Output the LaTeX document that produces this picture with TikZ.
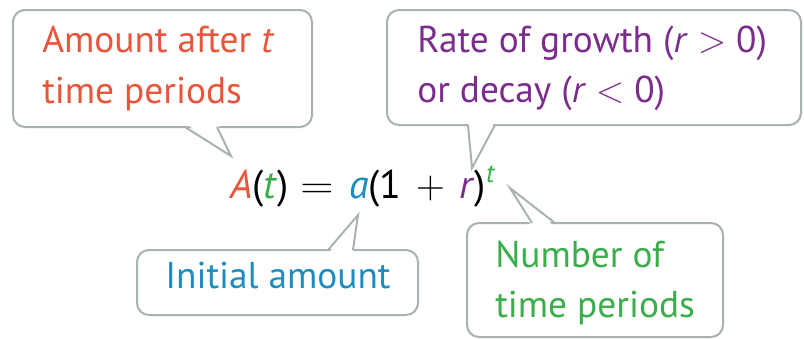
\RequirePackage{fix-cm}
\documentclass[tikz,border=0pt]{standalone}
\usepackage{graphicx}
\usepackage{fontspec}
\setmainfont{PT Sans}
\definecolor{cred}{HTML}{E8553A}
\definecolor{cpurple}{HTML}{7B2C8C}
\definecolor{cblue}{HTML}{1F8CC0}
\definecolor{cgreen}{HTML}{3AAE4A}
\definecolor{cgray}{HTML}{A9B1B1}
\begin{document}
\begin{tikzpicture}[x=0.75pt,y=-0.75pt,
  box/.style={draw=cgray, line width=1.5pt, fill=white, rounded corners=9pt},
  ptr/.style={draw=cgray, line width=1.5pt, line join=miter},
  lbl/.style={anchor=base west, inner sep=0pt, font=\fontsize{28}{33}\selectfont},
  eqn/.style={anchor=base west, inner sep=0pt, font=\fontsize{30}{36}\selectfont}]
\useasboundingbox (0,0) rectangle (804,339);
\fill[white] (0,0) rectangle (804,339);
% box 1
\draw[box] (13,10) rectangle (312,127);
\coordinate (p1a) at (185,127); \coordinate (p1b) at (217,127); \coordinate (t1) at (231,156);
\fill[white] (185,123) -- (217,123) -- (t1) -- cycle;
\draw[ptr] (p1a) -- (t1) -- (p1b);
\node[lbl, text=cred] (l1a) at (42,52) {Amount after \textit{t}};
\node[lbl, text=cred] (l1b) at (42,103) {time periods};
% box 2
\draw[box] (387,10) rectangle (801,125);
\coordinate (p2a) at (468,125); \coordinate (p2b) at (495,125); \coordinate (t2) at (472,168);
\fill[white] (468,121) -- (495,121) -- (t2) -- cycle;
\draw[ptr] (p2a) -- (t2) -- (p2b);
\node[lbl, text=cpurple] (l2a) at (417,52) {Rate of growth (\textit{r} $>$ 0)};
\node[lbl, text=cpurple] (l2b) at (417,102) {or decay (\textit{r} $<$ 0)};
% box 3
\draw[box] (137,250) rectangle (418,315);
\coordinate (p3a) at (328,250); \coordinate (p3b) at (353,250); \coordinate (t3) at (358,215);
\fill[white] (328,254) -- (353,254) -- (t3) -- cycle;
\draw[ptr] (p3a) -- (t3) -- (p3b);
\node[lbl, text=cblue] (l3) at (165,288) {Initial amount};
% box 4
\draw[box] (467,223) rectangle (723,337);
\coordinate (p4a) at (532,223); \coordinate (p4b) at (555,223); \coordinate (t4) at (510,188);
\fill[white] (532,227) -- (555,227) -- (t4) -- cycle;
\draw[ptr] (p4a) -- (t4) -- (p4b);
\node[lbl, text=cgreen] (l4a) at (495,267) {Number of};
\node[lbl, text=cgreen] (l4b) at (495,317) {time periods};
% equation
\node[eqn] (eq) at (230,198) {\textcolor{cred}{\textit{A}}(\textcolor{cgreen}{\textit{t}})\hspace{8.6pt}\scalebox{1.15}[1]{$=$}\hspace{11.6pt}\textcolor{cblue}{\textit{a}}(1\hspace{11pt}$+$\hspace{11pt}\textcolor{cpurple}{\textit{r}})\raisebox{12pt}{\fontsize{20}{22}\selectfont\textcolor{cgreen}{\textit{t}}}};
\end{tikzpicture}
\end{document}
